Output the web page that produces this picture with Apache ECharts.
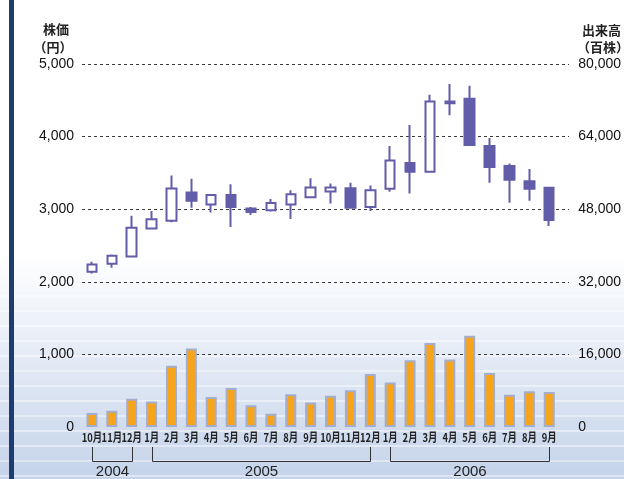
<!DOCTYPE html>
<html>

<head>
  <meta charset="utf-8">
  <title>株価と出来高</title>
  <script src="https://cdn.jsdelivr.net/npm/echarts/dist/echarts.min.js"></script>
  <style>
    html, body { margin: 0; padding: 0; }
    #chart { width: 624px; height: 479px; }
  </style>
</head>

<body>
  <div id="chart"></div>

  <script>
    // 月 (2004年10月 〜 2006年9月)
    const months = ['10月', '11月', '12月',
      '1月', '2月', '3月', '4月', '5月', '6月', '7月', '8月', '9月', '10月', '11月', '12月',
      '1月', '2月', '3月', '4月', '5月', '6月', '7月', '8月', '9月'];

    // 年の区切り: [ラベル, 最初の月index, 最後の月index]
    const years = [['2004', 0, 2], ['2005', 3, 14], ['2006', 15, 23]];

    // 株価 [始値, 終値, 安値, 高値]
    const prices = [
      [2140, 2240, 2115, 2275], [2250, 2360, 2195, 2375], [2350, 2745, 2335, 2910],
      [2735, 2860, 2720, 2975], [2840, 3285, 2820, 3465], [3230, 3115, 3020, 3420],
      [3065, 3195, 2955, 3205], [3195, 3030, 2755, 3345], [3010, 2960, 2920, 3030],
      [2985, 3085, 2970, 3140], [3065, 3205, 2865, 3260], [3165, 3300, 3155, 3425],
      [3245, 3300, 3080, 3355], [3290, 3020, 3020, 3365], [3030, 3260, 2975, 3325],
      [3280, 3670, 3240, 3870], [3635, 3515, 3215, 4160], [3515, 4485, 3510, 4575],
      [4485, 4460, 4295, 4725], [4520, 3885, 3870, 4700], [3870, 3580, 3365, 3980],
      [3595, 3405, 3090, 3630], [3385, 3280, 3115, 3555], [3295, 2850, 2770, 3300]
    ];

    // 出来高 (百株)
    const volumes = [3100, 3600, 6200, 5600, 13500, 17300, 6600, 8600, 4800, 2900, 7200, 5400,
      6900, 8100, 11700, 9800, 14700, 18500, 14900, 20100, 11900, 7100, 7900, 7700];

    const purple = '#625da9';
    const numFont = "'Liberation Sans', Arial, sans-serif";
    const jpFont = "'Noto Sans CJK JP', sans-serif";
    const fmt = v => v.toLocaleString('en-US');

    const chart = echarts.init(document.getElementById('chart'));

    chart.setOption({
      animation: false,
      backgroundColor: new echarts.graphic.LinearGradient(0, 0, 0, 1, [
        { offset: 0, color: '#ffffff' },
        { offset: 0.53, color: '#ffffff' },
        { offset: 1, color: '#c4d3ea' }
      ]),
      grid: [
        { left: 82, right: 62, top: 64, bottom: 52 },
        { left: 82, right: 55, top: 64, bottom: 124.6 }
      ],
      xAxis: [
        {
          type: 'category', data: months, gridIndex: 0,
          axisLine: { show: false }, axisTick: { show: false },
          axisLabel: { show: false }
        },
        { type: 'value', gridIndex: 1, show: false, min: 0, max: 1 }
      ],
      yAxis: [
        {
          type: 'value', gridIndex: 0, min: 0, max: 5000, interval: 1000,
          splitLine: { show: false }, axisLine: { show: false },
          axisLabel: { formatter: fmt, color: '#111', fontSize: 14, fontFamily: numFont, margin: 8 }
        },
        {
          type: 'value', gridIndex: 0, position: 'right', min: 0, max: 80000, interval: 16000,
          splitLine: { show: false }, axisLine: { show: false },
          axisLabel: { formatter: fmt, color: '#111', fontSize: 14, fontFamily: numFont, margin: 19 }
        },
        {
          // 破線の目盛線 (0 には引かない)
          type: 'value', gridIndex: 1, min: 1000, max: 5000, interval: 1000,
          axisLabel: { show: false }, axisLine: { show: false }, axisTick: { show: false },
          splitLine: { lineStyle: { color: '#3a3a3a', type: [3, 3], width: 1 } }
        }
      ],
      series: [
        {
          name: '出来高', type: 'bar', xAxisIndex: 0, yAxisIndex: 1,
          data: volumes, barWidth: 11,
          itemStyle: { color: '#f6a41c', borderColor: '#a3adcc', borderWidth: 2 }
        },
        {
          name: '株価', type: 'candlestick', xAxisIndex: 0, yAxisIndex: 0,
          data: prices, barWidth: 10,
          itemStyle: {
            color: '#ffffff', borderColor: purple,
            color0: purple, borderColor0: purple, borderWidth: 2
          }
        }
      ]
    });

    // 装飾・見出し・月ラベル・年の括弧 (レイアウト後に軸から位置を取る)
    const g = [];
    for (let y = 296; y < 479; y += 15) {
      g.push({
        type: 'line', silent: true, z: -9,
        shape: { x1: 0, y1: y, x2: 624, y2: y },
        style: { stroke: 'rgba(255,255,255,0.85)', lineWidth: 1.2 }
      });
    }
    g.push(
      { type: 'rect', silent: true, shape: { x: 9, y: 0, width: 5, height: 479 }, style: { fill: '#1d3d70' } },
      { type: 'text', x: 56, y: 29, style: { text: '株価', font: 'bold 13px ' + jpFont, fill: '#222', align: 'center', verticalAlign: 'middle' } },
      { type: 'text', x: 53, y: 47, style: { text: '（円）', font: 'bold 13px ' + jpFont, fill: '#222', align: 'center', verticalAlign: 'middle' } },
      { type: 'text', x: 582, y: 30, style: { text: '出来高', font: 'bold 13px ' + jpFont, fill: '#222', align: 'left', verticalAlign: 'middle' } },
      { type: 'text', x: 577, y: 47, style: { text: '（百株）', font: 'bold 13px ' + jpFont, fill: '#222', align: 'left', verticalAlign: 'middle' } }
    );

    const xPos = i => chart.convertToPixel({ xAxisIndex: 0 }, i);
    months.forEach((m, i) => {
      g.push({
        type: 'text', x: xPos(i), y: 437, scaleX: 0.78,
        style: { text: m, font: 'bold 12px ' + jpFont, fill: '#222', align: 'center', verticalAlign: 'middle' }
      });
    });

    years.forEach(([label, from, to]) => {
      const x0 = Math.round(xPos(from)) + 0.5;
      const x1 = Math.round(xPos(to)) + 0.5;
      g.push({
        type: 'polyline', silent: true,
        shape: { points: [[x0, 447], [x0, 461.5], [x1, 461.5], [x1, 447]] },
        style: { stroke: '#333', lineWidth: 1, fill: null }
      });
      g.push({
        type: 'text', x: (x0 + x1) / 2, y: 472,
        style: { text: label, font: '15px ' + numFont, fill: '#222', align: 'center', verticalAlign: 'middle' }
      });
    });

    chart.setOption({ graphic: g });
  </script>
</body>

</html>
